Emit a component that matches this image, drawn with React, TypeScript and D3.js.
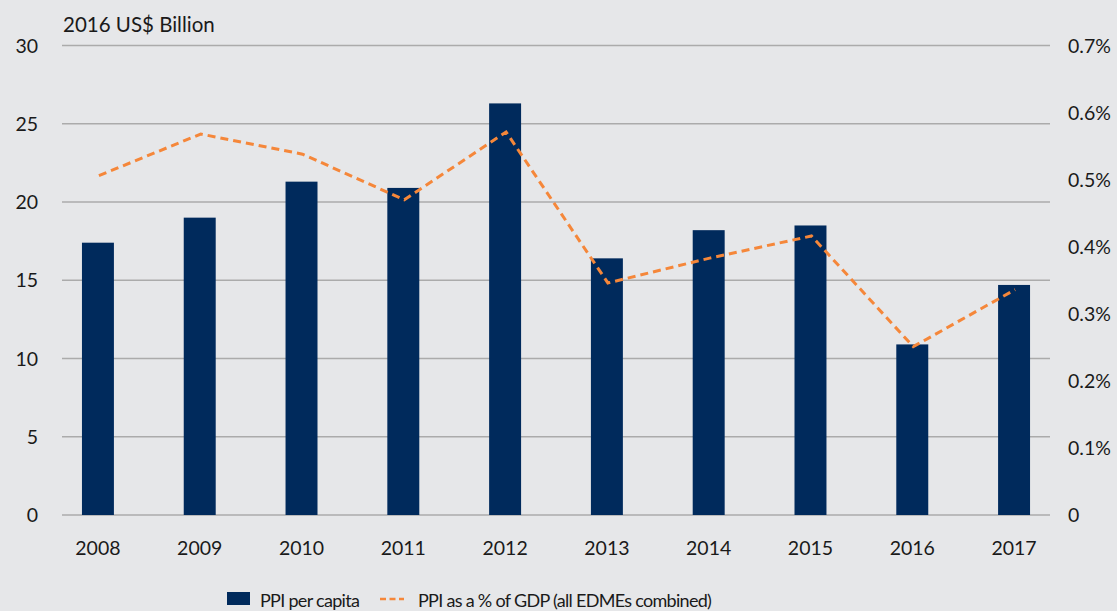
import React, { useRef, useEffect } from "react";
import * as d3 from "d3";

const years = ["2008", "2009", "2010", "2011", "2012", "2013", "2014", "2015", "2016", "2017"];
const ppiPerCapita = [17.4, 19.0, 21.3, 20.9, 26.3, 16.4, 18.2, 18.5, 10.9, 14.7];
const ppiShareGdp = [0.506, 0.568, 0.538, 0.47, 0.571, 0.346, 0.383, 0.416, 0.251, 0.336];
const leftTicks = [0, 5, 10, 15, 20, 25, 30];
const rightTicks = [0, 0.1, 0.2, 0.3, 0.4, 0.5, 0.6, 0.7];

const width = 1117;
const height = 611;
const font = "Lato, 'Open Sans', sans-serif";

const App = () => {
  const node: any = useRef();

  useEffect(() => {
    const svg = d3.select(node.current);
    svg.selectAll("*").remove();

    // plot area
    const x0 = 62, x1 = 1050, yTop = 45.5, yBottom = 515;

    svg.append("rect").attr("width", width).attr("height", height).attr("fill", "#e6e7e9");

    const x = d3.scaleBand().domain(years).range([x0, x1]).paddingInner(0.686).paddingOuter(0.196);
    const y = d3.scaleLinear().domain([0, 30]).range([yBottom, yTop]);
    const y2 = d3.scaleLinear().domain([0, 0.7]).range([yBottom, yTop]);

    // gridlines
    svg
      .append("g")
      .selectAll("line")
      .data(leftTicks)
      .enter()
      .append("line")
      .attr("x1", x0)
      .attr("x2", x1)
      .attr("y1", (d: number) => y(d))
      .attr("y2", (d: number) => y(d))
      .attr("stroke", "#ababab")
      .attr("stroke-width", 1.5);

    // left tick labels
    svg
      .append("g")
      .selectAll("text")
      .data(leftTicks)
      .enter()
      .append("text")
      .attr("x", 38)
      .attr("y", (d: number) => y(d) + 7)
      .attr("text-anchor", "end")
      .attr("font-family", font)
      .attr("font-size", 19.5)
      .attr("fill", "#1a1a1a")
      .text((d: number) => d);

    // right tick labels
    svg
      .append("g")
      .selectAll("text")
      .data(rightTicks)
      .enter()
      .append("text")
      .attr("x", 1068)
      .attr("y", (d: number) => y2(d) + 7)
      .attr("text-anchor", "start")
      .attr("font-family", font)
      .attr("font-size", 19.5)
      .attr("fill", "#1a1a1a")
      .text((d: number) => (d === 0 ? "0" : d3.format(".1f")(d) + "%"));

    // axis title
    svg
      .append("text")
      .attr("x", 63)
      .attr("y", 32)
      .attr("font-family", font)
      .attr("font-size", 20.5)
      .attr("fill", "#1a1a1a")
      .text("2016 US$ Billion");

    // bars
    svg
      .append("g")
      .selectAll("rect")
      .data(years)
      .enter()
      .append("rect")
      .attr("x", (d: string) => x(d) || 0)
      .attr("y", (_d: string, i: number) => y(ppiPerCapita[i]))
      .attr("width", x.bandwidth())
      .attr("height", (_d: string, i: number) => yBottom - y(ppiPerCapita[i]))
      .attr("fill", "#002a5c");

    // line
    const line = d3
      .line<number>()
      .x((_d, i) => (x(years[i]) || 0) + x.bandwidth() / 2 + 1)
      .y((d) => y2(d));
    svg
      .append("path")
      .datum(ppiShareGdp)
      .attr("d", line)
      .attr("fill", "none")
      .attr("stroke", "#f5873a")
      .attr("stroke-width", 3)
      .attr("stroke-dasharray", "8,5");

    // x labels
    svg
      .append("g")
      .selectAll("text")
      .data(years)
      .enter()
      .append("text")
      .attr("x", (d: string) => (x(d) || 0) + x.bandwidth() / 2)
      .attr("y", 555)
      .attr("text-anchor", "middle")
      .attr("font-family", font)
      .attr("font-size", 19.5)
      .attr("fill", "#1a1a1a")
      .text((d: string) => d);

    // legend
    const legend = svg.append("g");
    legend.append("rect").attr("x", 227).attr("y", 592).attr("width", 23).attr("height", 13).attr("fill", "#002a5c");
    legend
      .append("text")
      .attr("x", 260)
      .attr("y", 606.5)
      .attr("font-family", font)
      .attr("font-size", 18)
      .attr("letter-spacing", -0.7)
      .attr("fill", "#1a1a1a")
      .text("PPI per capita");
    legend
      .append("line")
      .attr("x1", 380)
      .attr("x2", 404)
      .attr("y1", 599)
      .attr("y2", 599)
      .attr("stroke", "#f5873a")
      .attr("stroke-width", 2.6)
      .attr("stroke-dasharray", "6,3.5");
    legend
      .append("text")
      .attr("x", 418)
      .attr("y", 606.5)
      .attr("font-family", font)
      .attr("font-size", 18)
      .attr("letter-spacing", -0.7)
      .attr("fill", "#1a1a1a")
      .text("PPI as a % of GDP (all EDMEs combined)");
  }, []);

  return (
    <svg
      ref={node}
      width={width}
      height={height}
      style={{ position: "absolute", left: 0, top: 0, display: "block" }}
    ></svg>
  );
};

export default App;
